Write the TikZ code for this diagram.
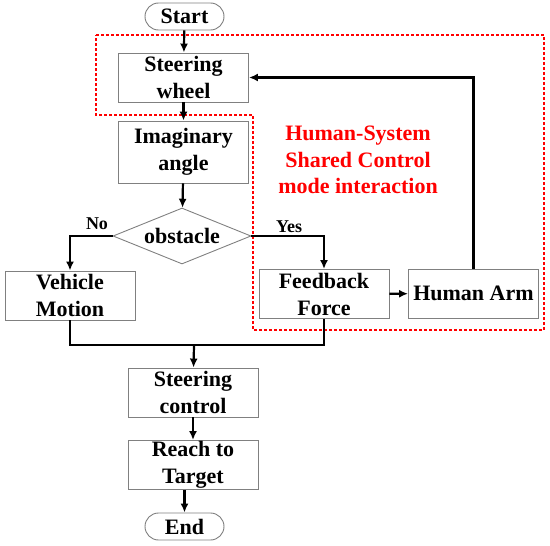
\documentclass[tikz,border=0pt]{standalone}
\usepackage{fontspec}
\setmainfont{Liberation Serif}
\usetikzlibrary{shapes.geometric,arrows.meta}

\tikzset{
  box/.style={draw=gray,line width=.9pt,minimum width=130pt,minimum height=49pt,
    inner sep=0pt,align=center,font=\bfseries\fontsize{22}{27}\selectfont},
  term/.style={box,rounded corners=13.5pt,minimum width=79pt,minimum height=27pt},
  dec/.style={box,shape=diamond,aspect=2.46,minimum width=138pt,minimum height=56pt},
  arr/.style={line width=2.2pt,-{Latex[length=9pt,width=8pt]}},
  mergeline/.style={line width=1.3pt},
  lbl/.style={font=\bfseries\fontsize{18}{20}\selectfont},
}

\begin{document}
\begin{tikzpicture}[x=1pt,y=-1pt]
      \useasboundingbox (0,0) rectangle (550,546);
      % shared control region
      \draw[red,line width=1.2pt,dash pattern=on 3pt off 2pt]
        (96,35)--(544,35)--(544,330)--(253,330)--(253,115)--(96,115)--cycle;
      \node[red,align=center,font=\bfseries\fontsize{22}{26.5}\selectfont] (region) at (358,160)
        {Human-System\\Shared Control\\mode interaction};
      % flow nodes
      \node[term] (start) at (184.5,16.5) {Start};
      \node[box] (wheel) at (183.5,77.5) {Steering\\wheel};
      \node[box,minimum height=62pt] (angle) at (183.5,152) {Imaginary\\angle};
      \node[dec] (obst) at (182,236) {obstacle};
      \node[box] (vehicle) at (70,295.5) {Vehicle\\Motion};
      \node[box] (feedback) at (324,294) {Feedback\\Force};
      \node[box] (arm) at (473.5,293.5) {Human Arm};
      \coordinate (merge) at (194,345);
      \node[box] (steer) at (193,392.5) {Steering\\control};
      \node[box] (reach) at (193,465) {Reach to\\Target};
      \node[term] (stop) at (184.5,526.5) {End};
      \node[lbl] (no) at (97,224) {No};
      \node[lbl] (yes) at (289,227) {Yes};
      % connectors
      \draw[arr] (start) -- (wheel);
      \draw[arr] (wheel) -- (angle);
      \draw[arr] (angle) -- (obst);
      \draw[arr] (obst.west) -| (vehicle);
      \draw[arr] (obst.east) -| (feedback);
      \draw[arr] (feedback) -- (arm);
      \draw[arr] (arm) |- (wheel);
      \draw[mergeline] (vehicle) |- (merge) -| (feedback);
      \draw[arr] (merge) -- (steer);
      \draw[arr] (steer) -- (reach);
      \draw[arr] (reach.south -| stop) -- (stop);
    \end{tikzpicture}
\end{document}
